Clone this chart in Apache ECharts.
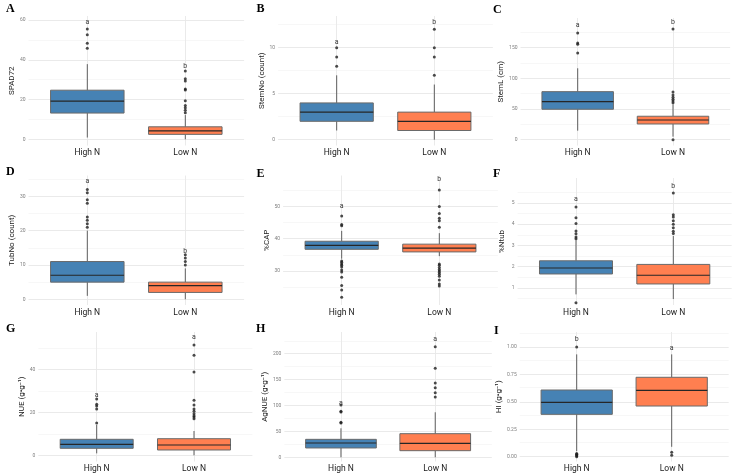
<!DOCTYPE html>
<html><head><meta charset="utf-8">
<script src="https://cdn.jsdelivr.net/npm/echarts@6/dist/echarts.min.js"></script>
<style>html,body{margin:0;padding:0;background:#fff}#c{width:733px;height:476px}</style>
</head><body><div id="c"></div><script>
// ---------- data ----------
const categories = ['High N', 'Low N'];
const panelLetters = ['A', 'B', 'C', 'D', 'E', 'F', 'G', 'H', 'I'];
const yTitles = ['SPAD72', 'StemNo (count)', 'StemL (cm)', 'TubNo (count)', '%CAP', '%Ntub', 'NUE (g•g⁻¹)', 'AgNUE (g•g⁻¹)', 'HI (g•g⁻¹)'];
const boxColors = ['#4682B4', '#FF7F50'];

// box stats: [lower whisker, Q1, median, Q3, upper whisker]
const spadHigh = [0.9, 13.2, 19.2, 24.7, 37.8];
const spadLow = [0, 2.5, 4.3, 6.3, 12.2];
const spadOutHigh = [45.8, 48.3, 52.6, 55.5];
const spadOutLow = [13.4, 14.6, 15.9, 17.0, 19.4, 24.8, 25.3, 29.3, 30.5, 34.4];
const spadLetters = ['a', 'b'];
const spadLetterY = [58.9, 36.9];
const spadTicks = [0, 20, 40, 60];
const spadMinor = [10, 30, 50];

const stemNoHigh = [1, 2, 3, 4, 7];
const stemNoLow = [0, 1, 2, 3, 6];
const stemNoOutHigh = [8, 9, 10];
const stemNoOutLow = [7, 9, 10, 12];
const stemNoLetters = ['a', 'b'];
const stemNoLetterY = [10.65, 12.8];
const stemNoTicks = [0, 5, 10];
const stemNoMinor = [2.5, 7.5, 12.5];

const stemLHigh = [14.7, 49.6, 62, 78.3, 116.4];
const stemLLow = [4.9, 25.6, 32.1, 38.2, 57.7];
const stemLOutHigh = [141.4, 155.5, 157.5, 174];
const stemLOutLow = [0, 60.3, 63, 65.8, 69, 72.8, 77.7, 180.5];
const stemLLetters = ['a', 'b'];
const stemLLetterY = [186, 192];
const stemLTicks = [0, 50, 100, 150];
const stemLMinor = [25, 75, 125, 175];

const tubNoHigh = [1, 5, 7, 11, 20];
const tubNoLow = [0, 2, 4, 5, 9];
const tubNoOutHigh = [21, 22, 23, 24, 28, 29, 31, 32];
const tubNoOutLow = [10, 11, 12, 13];
const tubNoLetters = ['a', 'b'];
const tubNoLetterY = [34.3, 14.1];
const tubNoTicks = [0, 10, 20, 30];
const tubNoMinor = [5, 15, 25, 35];

const capHigh = [33.8, 36.7, 37.9, 39.2, 42.4];
const capLow = [34.6, 35.9, 37.1, 38.3, 41.7];
const capOutHigh = [44.0, 44.4, 47.0, 33.1, 32.7, 32.2, 31.8, 31.2, 30.3, 29.7, 28.1, 25.5, 24.1, 21.9];
const capOutLow = [43.5, 45.5, 46.3, 47.8, 49.9, 55.0, 32.2, 31.8, 31.1, 30.5, 30.0, 29.5, 29.0, 28.4, 27.2, 26.0, 25.4];
const capLetters = ['a', 'b'];
const capLetterY = [49.9, 58.3];
const capTicks = [30, 40, 50];
const capMinor = [25, 35, 45, 55];

const ntubHigh = [0.70, 1.66, 1.94, 2.28, 3.25];
const ntubLow = [0.48, 1.19, 1.60, 2.11, 3.45];
const ntubOutHigh = [0.31, 3.32, 3.40, 3.55, 3.68, 4.03, 4.31, 4.81];
const ntubOutLow = [3.57, 3.67, 3.84, 4.00, 4.17, 4.34, 4.45, 5.47];
const ntubLetters = ['a', 'b'];
const ntubLetterY = [5.16, 5.81];
const ntubTicks = [1, 2, 3, 4, 5];
const ntubMinor = [0.5, 1.5, 2.5, 3.5, 4.5, 5.5];

const nueHigh = [0.9, 3.26, 5.1, 7.44, 14.1];
const nueLow = [0, 2.47, 4.79, 7.73, 11.3];
const nueOutHigh = [15.0, 21.5, 22.9, 23.7, 26.2];
const nueOutLow = [17.0, 17.8, 18.4, 19.3, 20.5, 21.5, 23.4, 25.6, 38.7, 46.5, 51.3];
const nueLetters = ['a', 'a'];
const nueLetterY = [28.0, 54.7];
const nueTicks = [0, 20, 40];
const nueMinor = [10, 30, 50];

const agnueHigh = [0, 18.0, 27.6, 34.7, 56];
const agnueLow = [0, 12.8, 27, 45.6, 86.9];
const agnueOutHigh = [66, 67.5, 87.5, 89, 101];
const agnueOutLow = [116.4, 124.7, 134.4, 143.4, 171.8, 213.5];
const agnueLetters = ['a', 'a'];
const agnueLetterY = [104, 227.8];
const agnueTicks = [0, 50, 100, 150, 200];
const agnueMinor = [25, 75, 125, 175, 225];

const hiHigh = [0.05, 0.386, 0.496, 0.608, 0.933];
const hiLow = [0.09, 0.462, 0.605, 0.724, 0.933];
const hiOutHigh = [0.0, 0.008, 0.015, 0.022, 0.03, 1.0];
const hiOutLow = [0.013, 0.04];
const hiLetters = ['b', 'a'];
const hiLetterY = [1.073, 0.99];
const hiTicks = [0, 0.25, 0.5, 0.75, 1];
const hiTickLabels = ['0.00', '0.25', '0.50', '0.75', '1.00'];
const hiMinor = [0.125, 0.375, 0.625, 0.875, 1.125];

// ---------- layout (positions only) ----------
const panels = [
  {high: spadHigh, low: spadLow, outH: spadOutHigh, outL: spadOutLow, let: spadLetters, letY: spadLetterY, ticks: spadTicks, minor: spadMinor,
   left: 28.5, top: 16, width: 215.6, height: 129.5, min: -3.1, max: 62.0, tL: [6, 3]},
  {high: stemNoHigh, low: stemNoLow, outH: stemNoOutHigh, outL: stemNoOutLow, let: stemNoLetters, letY: stemNoLetterY, ticks: stemNoTicks, minor: stemNoMinor,
   left: 278.1, top: 16, width: 214.8, height: 129.5, min: -0.63, max: 13.45, tL: [256.5, 3]},
  {high: stemLHigh, low: stemLLow, outH: stemLOutHigh, outL: stemLOutLow, let: stemLLetters, letY: stemLLetterY, ticks: stemLTicks, minor: stemLMinor,
   left: 520.5, top: 18, width: 209.7, height: 127.5, min: -9.5, max: 198.4, tL: [493, 4]},
  {high: tubNoHigh, low: tubNoLow, outH: tubNoOutHigh, outL: tubNoOutLow, let: tubNoLetters, letY: tubNoLetterY, ticks: tubNoTicks, minor: tubNoMinor,
   left: 28.5, top: 175.5, width: 215.6, height: 129.5, min: -1.66, max: 36.06, tL: [6, 166]},
  {high: capHigh, low: capLow, outH: capOutHigh, outL: capOutLow, let: capLetters, letY: capLetterY, ticks: capTicks, minor: capMinor,
   left: 283.1, top: 175.5, width: 214.8, height: 129.5, min: 19.49, max: 59.52, tL: [256.5, 168]},
  {high: ntubHigh, low: ntubLow, outH: ntubOutHigh, outL: ntubOutLow, let: ntubLetters, letY: ntubLetterY, ticks: ntubTicks, minor: ntubMinor,
   left: 517.6, top: 178, width: 214.1, height: 127, min: 0.2, max: 6.176, tL: [493, 168]},
  {high: nueHigh, low: nueLow, outH: nueOutHigh, outL: nueOutLow, let: nueLetters, letY: nueLetterY, ticks: nueTicks, minor: nueMinor,
   left: 38.3, top: 332, width: 214.1, height: 129.5, min: -2.88, max: 57.35, tL: [6, 323]},
  {high: agnueHigh, low: agnueLow, outH: agnueOutHigh, outL: agnueOutLow, let: agnueLetters, letY: agnueLetterY, ticks: agnueTicks, minor: agnueMinor,
   left: 284.4, top: 332, width: 207.4, height: 129.5, min: -8.1, max: 241.9, tL: [256, 323]},
  {high: hiHigh, low: hiLow, outH: hiOutHigh, outL: hiOutLow, let: hiLetters, letY: hiLetterY, ticks: hiTicks, tickLabels: hiTickLabels, minor: hiMinor,
   left: 519.7, top: 332, width: 209, height: 129.5, min: -0.044, max: 1.137, tL: [494, 325]}
];

const FONT = '"Liberation Sans Narrow", "Roboto", sans-serif';
const grids = [], xAxes = [], yAxes = [], series = [], titles = [];

panels.forEach((p, i) => {
  grids.push({left: p.left, top: p.top, width: p.width, height: p.height});
  titles.push({text: panelLetters[i], left: p.tL[0], top: p.tL[1], padding: 0,
    textStyle: {fontFamily: '"Liberation Serif", "DejaVu Serif", serif', fontWeight: 'bold', fontSize: 12, color: '#000'}});
  xAxes.push({type: 'value', gridIndex: i, min: 0.4, max: 2.6,
    axisLine: {show: false}, axisTick: {show: false}, splitLine: {show: false},
    axisLabel: {customValues: [1, 2], formatter: v => categories[Math.round(v) - 1] || '',
      fontSize: 8.5, color: '#1a1a1a', margin: 3, fontFamily: FONT}});
  yAxes.push({type: 'value', gridIndex: i, min: p.min, max: p.max,
    axisLine: {show: false}, axisTick: {show: false}, splitLine: {show: false},
    axisLabel: {customValues: p.ticks, fontSize: 5, color: '#7f7f7f', margin: 3, fontFamily: 'Roboto',
      formatter: v => {
        const k = p.ticks.findIndex(t => Math.abs(t - v) < 1e-9);
        if (p.tickLabels && k >= 0) return p.tickLabels[k];
        return String(v);
      }},
    name: yTitles[i], nameLocation: 'middle', nameGap: 12,
    nameTextStyle: {fontSize: 8, color: '#1a1a1a', fontFamily: FONT}});

  const ml = [];
  p.ticks.forEach(v => ml.push({yAxis: v, lineStyle: {color: '#e8e8e8', width: 0.9, type: 'solid'}}));
  p.minor.forEach(v => ml.push({yAxis: v, lineStyle: {color: '#f1f1f1', width: 0.6, type: 'solid'}}));
  [1, 2].forEach(x => ml.push({xAxis: x, lineStyle: {color: '#e8e8e8', width: 0.9, type: 'solid'}}));

  series.push({
    type: 'custom', xAxisIndex: i, yAxisIndex: i, z: 2,
    data: [[1].concat(p.high), [2].concat(p.low)],
    encode: {x: 0, y: [1, 2, 3, 4, 5]},
    renderItem: function (params, api) {
      const x = api.value(0);
      const pLo = api.coord([x, api.value(1)]);
      const pQ1 = api.coord([x, api.value(2)]);
      const pMed = api.coord([x, api.value(3)]);
      const pQ3 = api.coord([x, api.value(4)]);
      const pHi = api.coord([x, api.value(5)]);
      const hw = api.size([0.75, 0])[0] / 2;
      const ws = {stroke: '#5e5e5e', lineWidth: 1};
      return {type: 'group', children: [
        {type: 'line', shape: {x1: pLo[0], y1: pLo[1], x2: pQ1[0], y2: pQ1[1]}, style: ws},
        {type: 'line', shape: {x1: pQ3[0], y1: pQ3[1], x2: pHi[0], y2: pHi[1]}, style: ws},
        {type: 'rect', shape: {x: pQ3[0] - hw, y: pQ3[1], width: 2 * hw, height: pQ1[1] - pQ3[1]},
          style: {fill: boxColors[params.dataIndex], stroke: '#6a6a6a', lineWidth: 1}},
        {type: 'line', shape: {x1: pMed[0] - hw, y1: pMed[1], x2: pMed[0] + hw, y2: pMed[1]},
          style: {stroke: '#262626', lineWidth: 1.2}}
      ]};
    },
    markLine: {silent: true, symbol: ['none', 'none'], label: {show: false}, z: 1, animation: false, data: ml}
  });

  series.push({
    type: 'scatter', xAxisIndex: i, yAxisIndex: i, z: 3, symbolSize: 3,
    itemStyle: {color: '#1e1e1e'},
    data: p.outH.map(v => [1, v]).concat(p.outL.map(v => [2, v]))
  });

  series.push({
    type: 'custom', xAxisIndex: i, yAxisIndex: i, z: 4,
    data: [[1, p.letY[0]], [2, p.letY[1]]],
    encode: {x: 0, y: 1},
    renderItem: function (params, api) {
      const pt = api.coord([api.value(0), api.value(1)]);
      return {type: 'text', x: pt[0], y: pt[1],
        style: {text: p.let[params.dataIndex], fill: '#3a3a3a', font: '7px Roboto', align: 'center', verticalAlign: 'middle'}};
    }
  });
});

const chart = echarts.init(document.getElementById('c'));
chart.setOption({
  animation: false,
  backgroundColor: '#ffffff',
  title: titles,
  grid: grids,
  xAxis: xAxes,
  yAxis: yAxes,
  series: series
});
</script></body></html>
